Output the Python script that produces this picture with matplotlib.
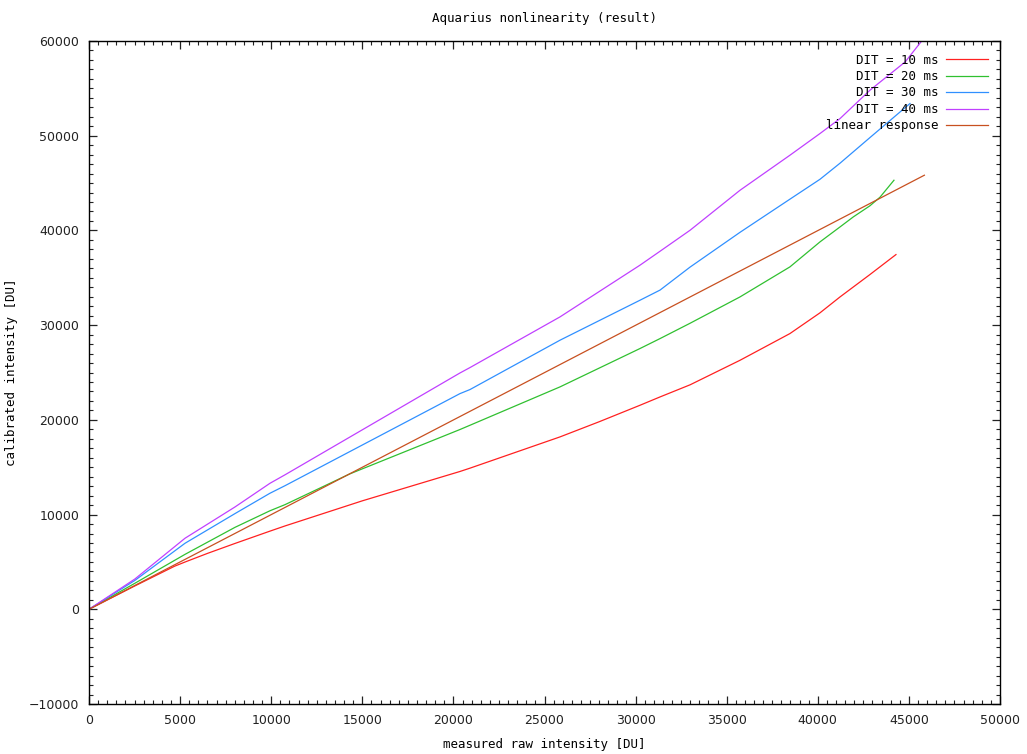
import numpy as np
import matplotlib.pyplot as plt
from matplotlib.ticker import MultipleLocator

# measured raw intensity [DU] -> calibrated intensity [DU]
x_10 = [0, 2500, 4700, 5270, 6500, 8010, 9930, 10760, 15000, 20360, 20910,
        25850, 28000, 30240, 31340, 32990, 35730, 38470, 40120, 41220, 42860, 44290]
y_10 = [0, 2450, 4550, 4990, 5900, 6950, 8250, 8800, 11450, 14550, 14900,
        18200, 19800, 21540, 22420, 23700, 26290, 29110, 31300, 32980, 35340, 37450]

x_20 = [0, 2520, 5270, 8010, 9930, 10760, 14320, 20360, 20910, 25850, 30240,
        31340, 32990, 35730, 38470, 40120, 41220, 41950, 42860, 43410, 44180]
y_20 = [0, 2750, 5800, 8650, 10400, 11050, 14300, 18980, 19430, 23480, 27530,
        28580, 30200, 32980, 36150, 38790, 40370, 41430, 42600, 43500, 45300]

x_30 = [0, 2520, 5270, 8010, 9930, 10760, 20360, 20910, 25850, 30240, 31340,
        32990, 35730, 38470, 40120, 41220, 42860, 45060]
y_30 = [0, 3050, 6970, 10100, 12250, 13050, 22770, 23200, 28410, 32630, 33700,
        36130, 39800, 43300, 45400, 47100, 49800, 53400]

x_40 = [0, 2520, 5270, 8010, 9930, 10760, 20360, 20910, 25850, 30240, 31340,
        32990, 35730, 38470, 40120, 41220, 42860, 44800, 45700]
y_40 = [0, 3200, 7500, 10800, 13300, 14200, 24950, 25520, 30870, 36330, 37800,
        40020, 44240, 47940, 50230, 51810, 54800, 57800, 60000]

x_lin = [0, 45850]
y_lin = [0, 45830]

series = [
    (x_10, y_10, 'DIT = 10 ms', '#ff2020'),
    (x_20, y_20, 'DIT = 20 ms', '#30c030'),
    (x_30, y_30, 'DIT = 30 ms', '#3090ff'),
    (x_40, y_40, 'DIT = 40 ms', '#c040ff'),
    (x_lin, y_lin, 'linear response', '#c85020'),
]

mono = 'DejaVu Sans Mono'

fig = plt.figure(figsize=(10.27, 7.54), dpi=100)
ax = fig.add_axes([89 / 1027, 1 - 704 / 754, (1000 - 89) / 1027, (704 - 41) / 754])

for xs, ys, label, color in series:
    ax.plot(xs, ys, color=color, lw=0.9, label=label)

ax.set_xlim(0, 50000)
ax.set_ylim(-10000, 60000)
ax.xaxis.set_major_locator(MultipleLocator(5000))
ax.xaxis.set_minor_locator(MultipleLocator(500))
ax.yaxis.set_major_locator(MultipleLocator(10000))
ax.yaxis.set_minor_locator(MultipleLocator(1000))
ax.tick_params(which='both', direction='in', top=True, right=True,
               labelsize=9, colors='#222222')
ax.tick_params(which='major', length=6, width=0.9, pad=7)
ax.tick_params(which='minor', length=3, width=0.8)
for s in ax.spines.values():
    s.set_linewidth(1.0)

ax.set_title('Aquarius nonlinearity (result)', fontsize=9, family=mono, pad=14)
ax.set_xlabel('measured raw intensity [DU]', fontsize=9, family=mono, labelpad=8)
ax.set_ylabel('calibrated intensity [DU]', fontsize=9, family=mono, labelpad=8)

ax.legend(loc='upper right', frameon=False, markerfirst=False,
          prop={'family': mono, 'size': 9}, handlelength=3.3,
          labelspacing=0.28, borderaxespad=0.6, handletextpad=0.6)

fig.savefig('out.png', dpi=100)
